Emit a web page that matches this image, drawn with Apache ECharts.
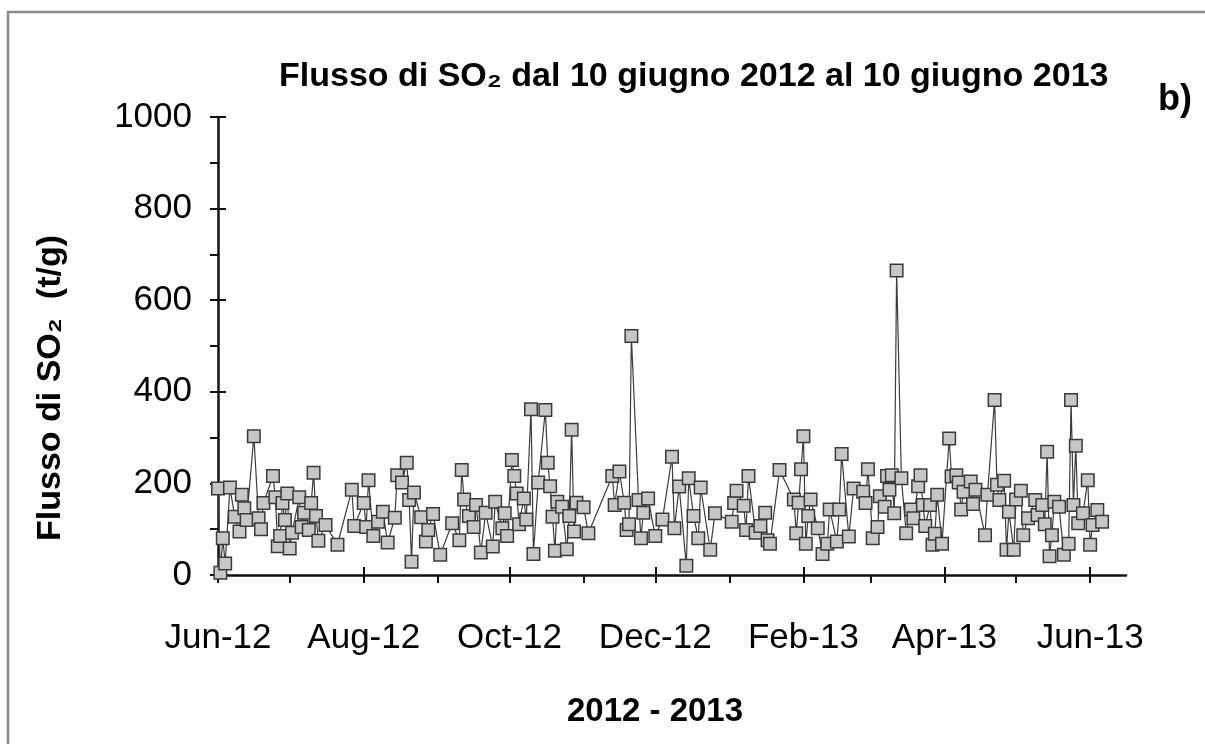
<!DOCTYPE html>
<html>
<head>
<meta charset="utf-8">
<script src="https://cdn.jsdelivr.net/npm/echarts@6/dist/echarts.min.js"></script>
<style>
html,body{margin:0;padding:0;background:#fff;}
#chart{width:1205px;height:744px;}
</style>
</head>
<body>
<div id="chart"></div>
<script>
// Day of observation, counted from 1 June 2012
const days = [
  0,1,2,3,5,7,9,10,11,12,15,17,18,19,23,24,25,26,27,28,29,30,31,34,35,36,38,39,40,41,42,45,50,56,57,61,62,63,65,67,69,71,74,75,77,79,80,81,82,85,87,88,90,93,
  98,101,102,103,105,107,108,110,112,115,116,119,120,121,123,124,125,126,128,129,131,132,134,137,138,139,140,141,142,144,146,147,148,149,150,153,155,165,166,168,170,171,172,173,176,177,178,180,183,186,
  190,191,193,196,197,199,201,202,206,208,215,216,217,220,221,222,225,227,229,230,231,235,241,242,243,244,245,246,247,248,251,253,255,256,259,260,261,264,266,270,271,272,274,276,277,279,280,281,282,283,
  284,286,288,290,291,293,294,295,296,298,299,300,301,303,306,307,309,310,311,312,315,316,317,321,322,325,326,327,329,330,331,333,334,336,337,339,342,343,345,346,347,348,349,350,352,354,356,357,358,359,360,362,364,365,366,368,370
];
// SO2 flux (t/g)
const so2Flux = [
  189,5,80,25,191,127,95,175,146,120,303,124,100,157,216,170,63,85,157,120,178,58,92,170,105,136,98,157,223,129,75,109,66,186,107,157,105,207,85,116,138,71,125,218,202,245,164,29,180,126,73,98,133,44,
  113,76,229,165,129,105,153,49,136,62,160,102,135,85,251,216,178,111,167,121,362,46,202,360,245,194,127,53,160,149,56,129,317,95,158,148,91,216,153,226,158,98,111,522,164,80,136,167,85,121,
  258,102,193,20,211,129,80,191,55,135,116,157,184,151,98,216,92,107,136,76,68,229,165,91,158,231,303,68,129,165,102,46,68,143,73,143,264,84,189,182,157,231,80,105,172,149,216,186,218,135,
  665,211,91,143,124,194,218,153,107,153,66,90,175,68,298,215,218,202,143,182,204,155,186,87,175,382,197,164,206,55,138,55,165,184,87,124,164,131,153,111,269,41,87,160,149,44,68,382,153,282,113,135,207,66,109,142,116
];
// Axis ticks (days from 1 June 2012)
const majorTickDays = [0, 61, 122, 183, 245, 304, 365];
const majorTickLabels = ['Jun-12', 'Aug-12', 'Oct-12', 'Dec-12', 'Feb-13', 'Apr-13', 'Jun-13'];
const minorTickDays = [30, 92, 153, 214, 273, 334];

const FONT = 'Liberation Sans, Arial, sans-serif';
const points = days.map((d, i) => [d, so2Flux[i]]);

const chart = echarts.init(document.getElementById('chart'));
const xBase = {type: 'value', min: 0, max: 380, position: 'bottom', splitLine: {show: false}};
const yBase = {type: 'value', min: 0, max: 1000, interval: 200, position: 'left', splitLine: {show: false}};

chart.setOption({
  animation: false,
  backgroundColor: '#fff',
  title: {
    text: 'Flusso di SO₂ dal 10 giugno 2012 al 10 giugno 2013',
    left: 274, top: 55,
    textStyle: {fontFamily: FONT, fontSize: 34, fontWeight: 'bold', color: '#000'}
  },
  grid: {left: 218, right: 79, top: 117, bottom: 169, containLabel: false},
  xAxis: [
    Object.assign({}, xBase, {
      name: '2012 - 2013', nameLocation: 'middle', nameGap: 120,
      nameTextStyle: {fontFamily: FONT, fontSize: 33, fontWeight: 'bold', color: '#000', padding: [0, 34, 0, 0]},
      axisLine: {show: true, lineStyle: {color: '#111', width: 2.5}},
      axisTick: {show: true, customValues: majorTickDays, length: 8, lineStyle: {color: '#111', width: 2}},
      axisLabel: {show: true, customValues: majorTickDays, margin: 46, fontFamily: FONT, fontSize: 35, color: '#000',
        formatter: v => { const i = majorTickDays.indexOf(Math.round(v)); return i >= 0 ? majorTickLabels[i] : ''; }}
    }),
    Object.assign({}, xBase, {
      axisLine: {show: false},
      axisTick: {show: true, inside: true, customValues: majorTickDays, length: 8, lineStyle: {color: '#111', width: 2}},
      axisLabel: {show: false}
    }),
    Object.assign({}, xBase, {
      axisLine: {show: false},
      axisTick: {show: true, customValues: minorTickDays, length: 8, lineStyle: {color: '#111', width: 2}},
      axisLabel: {show: false}
    })
  ],
  yAxis: [
    Object.assign({}, yBase, {
      name: 'Flusso di SO₂  (t/g)', nameLocation: 'middle', nameGap: 150,
      nameTextStyle: {fontFamily: FONT, fontSize: 34, fontWeight: 'bold', color: '#000', padding: [0, 84, 0, 0]},
      axisLine: {show: true, lineStyle: {color: '#111', width: 2.5}},
      axisTick: {show: true, length: 8, lineStyle: {color: '#111', width: 2}},
      minorTick: {show: true, splitNumber: 2, length: 8, lineStyle: {color: '#111', width: 2}},
      axisLabel: {margin: 26, fontFamily: FONT, fontSize: 35, color: '#000', formatter: v => String(v)}
    }),
    Object.assign({}, yBase, {
      axisLine: {show: false},
      axisTick: {show: true, inside: true, length: 8, lineStyle: {color: '#111', width: 2}},
      axisLabel: {show: false}
    })
  ],
  series: [{
    type: 'line',
    data: points,
    xAxisIndex: 0, yAxisIndex: 0,
    symbol: 'rect', symbolSize: 12.5, showAllSymbol: true,
    lineStyle: {color: '#3c3c3c', width: 1.2},
    itemStyle: {color: '#c6c6c6', borderColor: '#3a3a3a', borderWidth: 1.5}
  }],
  graphic: [
    {type: 'rect', silent: true, shape: {x: 8, y: 12, width: 1300, height: 900},
     style: {fill: null, stroke: '#8a8a8a', lineWidth: 2.5}},
    {type: 'text', left: 1158, top: 82,
     style: {text: 'b)', font: 'bold 36px ' + FONT, fill: '#000'}}
  ]
});
</script>
</body>
</html>
